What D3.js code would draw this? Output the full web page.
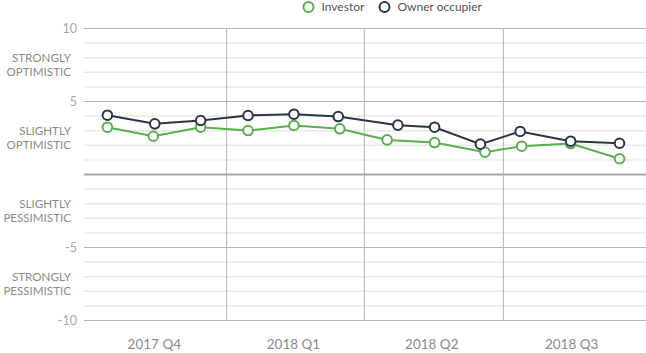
<!DOCTYPE html>
<html><head><meta charset="utf-8">
<script src="https://cdn.jsdelivr.net/npm/d3@7"></script>
<style>
html,body{margin:0;padding:0;background:#fff;}
svg{display:block;font-family:Lato,"Open Sans",sans-serif;}
</style></head><body>
<svg id="chart" width="646" height="353"></svg>
<script>
const investorDates = ["2017-10-15","2017-11-14","2017-12-15","2018-01-15","2018-02-14","2018-03-16","2018-04-16","2018-05-17","2018-06-19","2018-07-13","2018-08-14","2018-09-15"];
const investorValues = [3.24,2.62,3.24,3.01,3.36,3.13,2.37,2.19,1.53,1.94,2.12,1.08];
const ownerDates = ["2017-10-15","2017-11-15","2017-12-15","2018-01-15","2018-02-14","2018-03-15","2018-04-23","2018-05-17","2018-06-16","2018-07-12","2018-08-14","2018-09-15"];
const ownerValues = [4.06,3.47,3.70,4.04,4.13,3.97,3.38,3.24,2.08,2.95,2.28,2.14];
const quarterLabels = ["2017 Q4","2018 Q1","2018 Q2","2018 Q3"];
const quarterStarts = ["2017-10-01","2018-01-01","2018-04-01","2018-07-01","2018-10-01"];
const yTickValues = [10,5,-5,-10];
const zoneLabels = [[7.5,["STRONGLY","OPTIMISTIC"]],[2.5,["SLIGHTLY","OPTIMISTIC"]],[-2.5,["SLIGHTLY","PESSIMISTIC"]],[-7.5,["STRONGLY","PESSIMISTIC"]]];
const seriesNames = ["Investor","Owner occupier"];
const seriesColors = ["#5aae4f","#2a3647"];

const parse = d3.timeParse("%Y-%m-%d");
const svg = d3.select("#chart");
const x = d3.scaleTime().domain([parse(quarterStarts[0]), parse(quarterStarts[4])]).range([86, 644]);
const y = d3.scaleLinear().domain([-10,10]).range([320.5, 28.5]);

// horizontal grid
const g = svg.append("g");
g.selectAll("line.minor").data(d3.range(-10,11).filter(v=>v%5!==0)).enter().append("line")
  .attr("x1",84).attr("x2",646).attr("y1",d=>y(d)).attr("y2",d=>y(d))
  .attr("stroke","#e8e8e8").attr("stroke-width",1.5);
g.selectAll("line.major").data(yTickValues).enter().append("line")
  .attr("x1",84).attr("x2",646).attr("y1",d=>y(d)).attr("y2",d=>y(d))
  .attr("stroke","#b5b5b5").attr("stroke-width",1);
// vertical quarter dividers
g.selectAll("line.q").data(quarterStarts.slice(1,4)).enter().append("line")
  .attr("x1",d=>x(parse(d))).attr("x2",d=>x(parse(d))).attr("y1",y(10)).attr("y2",y(-10))
  .attr("stroke","#b5b5b5").attr("stroke-width",1);
// zero line
g.append("line").attr("x1",84).attr("x2",646).attr("y1",y(0)).attr("y2",y(0))
  .attr("stroke","#a8a8a8").attr("stroke-width",2);

// y tick numbers
svg.selectAll("text.yt").data(yTickValues).enter().append("text")
  .attr("x",77).attr("y",d=>y(d)).attr("dy","0.35em").attr("text-anchor","end")
  .attr("font-size",12.5).attr("fill","#a8a8a8").text(d=>d);
// zone labels
zoneLabels.forEach(([v,lines])=>{
  const t = svg.append("text").attr("text-anchor","end").attr("font-size",11.6)
    .attr("fill","#8a8a8a");
  lines.forEach((l,i)=>t.append("tspan").attr("x",71).attr("y",y(v)+(i===0?-7:7)).attr("dy","0.35em").text(l));
});

// x quarter labels
svg.selectAll("text.xq").data(quarterLabels).enter().append("text")
  .attr("x",(d,i)=>(x(parse(quarterStarts[i]))+x(parse(quarterStarts[i+1])))/2 - 2)
  .attr("y",344).attr("dy","0.35em").attr("text-anchor","middle")
  .attr("font-size",13.5).attr("fill","#8a8a8a").text(d=>d);

// series
const series = [
  {name:seriesNames[0], color:seriesColors[0], pts:investorDates.map((d,i)=>({d:parse(d),v:investorValues[i]}))},
  {name:seriesNames[1], color:seriesColors[1], pts:ownerDates.map((d,i)=>({d:parse(d),v:ownerValues[i]}))}
];
const line = d3.line().x(p=>x(p.d)).y(p=>y(p.v));
series.forEach(s=>{
  svg.append("path").datum(s.pts).attr("d",line).attr("fill","none")
    .attr("stroke",s.color).attr("stroke-width",2);
});
series.forEach(s=>{
  svg.selectAll(null).data(s.pts).enter().append("circle")
    .attr("cx",p=>x(p.d)).attr("cy",p=>y(p.v)).attr("r",4.8)
    .attr("fill","#fff").attr("stroke",s.color).attr("stroke-width",2);
});

// legend
const legX = [308.5,384.5];
series.forEach((s,i)=>{
  svg.append("circle").attr("cx",legX[i]).attr("cy",7).attr("r",5)
    .attr("fill","#fff").attr("stroke",s.color).attr("stroke-width",2);
  svg.append("text").attr("x",legX[i]+13).attr("y",7).attr("dy","0.35em")
    .attr("font-size",12).attr("fill","#555").text(s.name);
});
</script></body></html>
